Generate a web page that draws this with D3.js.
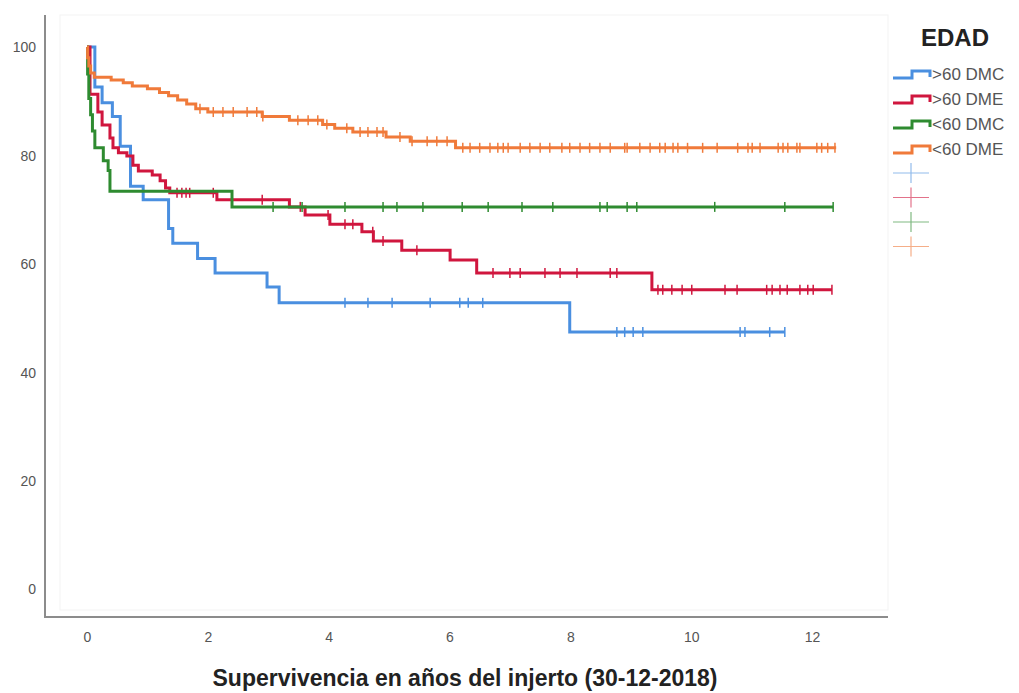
<!DOCTYPE html>
<html>
<head>
<meta charset="utf-8">
<script src="https://cdn.jsdelivr.net/npm/d3@7"></script>
<style>
  body { margin: 0; background: #fff; }
  svg { display: block; font-family: "Liberation Sans", Arial, sans-serif; }
</style>
</head>
<body>
<svg></svg>
<script>
let width = 1019;
let height = 693;

let groups = [">60 DMC", ">60 DME", "<60 DMC", "<60 DME"];
let colors = ["#4a8fe0", "#d0163e", "#2e8b30", "#f07a3a"];

// step times (years) and survival (%) per group
let blueTimes  = [0, 0.13, 0.25, 0.42, 0.55, 0.72, 0.93, 1.35, 1.42, 1.83, 2.12, 2.98, 3.18, 7.99, 11.55];
let blueValues = [100, 92.6, 89.7, 87.2, 81.7, 74.3, 71.8, 66.5, 63.8, 61.0, 58.3, 55.7, 52.8, 47.4, 47.4];
let blueCens   = [4.27, 4.65, 5.05, 5.68, 6.17, 6.31, 6.55, 8.77, 8.90, 9.04, 9.20, 10.81, 10.89, 11.30, 11.55];

let redTimes  = [0, 0.05, 0.18, 0.25, 0.38, 0.43, 0.52, 0.66, 0.76, 0.85, 1.08, 1.21, 1.30, 1.37, 2.15, 3.35, 3.61, 4.02, 4.55, 4.74, 5.21, 6.01, 6.45, 9.35, 12.33];
let redValues = [100, 91.3, 88.0, 85.6, 83.2, 81.4, 80.5, 79.9, 78.2, 77.1, 76.4, 75.3, 74.0, 73.1, 71.8, 70.5, 69.0, 67.3, 65.9, 64.2, 62.5, 60.7, 58.3, 55.2, 55.2];
let redCens   = [1.49, 1.57, 1.64, 1.70, 2.09, 2.90, 3.53, 3.99, 4.27, 4.40, 4.73, 4.90, 5.46, 6.72, 7.00, 7.17, 7.58, 7.83, 8.11, 8.66, 8.77, 9.45, 9.53, 9.68, 9.85, 10.01, 10.56, 10.76, 11.25, 11.34, 11.47, 11.59, 11.80, 11.93, 12.02, 12.33];

let greenTimes  = [0, 0.01, 0.03, 0.06, 0.09, 0.13, 0.27, 0.35, 0.38, 2.4, 12.35];
let greenValues = [100, 95.0, 90.5, 87.5, 84.5, 81.4, 79.0, 77.2, 73.4, 70.5, 70.5];
let greenCens   = [3.08, 3.56, 4.27, 4.90, 5.13, 5.56, 6.21, 6.64, 7.20, 7.71, 8.49, 8.61, 8.94, 9.10, 10.39, 11.55, 12.35];

let orangeTimes  = [0, 0.01, 0.03, 0.06, 0.12, 0.4, 0.6, 0.75, 1.0, 1.2, 1.35, 1.5, 1.65, 1.8, 2.0, 2.9, 3.35, 3.9, 4.1, 4.4, 4.95, 5.35, 6.1, 12.4];
let orangeValues = [100, 98.0, 96.5, 95.2, 94.4, 93.9, 93.4, 92.8, 92.3, 91.6, 91.0, 90.2, 89.5, 88.6, 88.0, 87.2, 86.5, 85.7, 85.0, 84.3, 83.4, 82.6, 81.4, 81.4];
let orangeCens   = [1.87, 2.09, 2.25, 2.42, 2.65, 2.81, 2.91, 3.49, 3.66, 3.82, 3.97, 4.30, 4.52, 4.65, 4.80, 4.90, 5.18, 5.38, 5.63, 5.79, 5.96, 6.22, 6.34, 6.50, 6.67, 6.80, 6.89, 6.97, 7.17, 7.33, 7.50, 7.66, 7.86, 7.99, 8.16, 8.32, 8.49, 8.66, 8.90, 8.94, 9.15, 9.32, 9.48, 9.57, 9.70, 9.78, 9.94, 10.19, 10.43, 10.77, 10.94, 11.01, 11.14, 11.44, 11.52, 11.60, 11.75, 11.80, 12.08, 12.16, 12.26, 12.38];

let xTicks = [0, 2, 4, 6, 8, 10, 12];
let yTicks = [0, 20, 40, 60, 80, 100];

let series = [
  { times: blueTimes, values: blueValues, cens: blueCens },
  { times: redTimes, values: redValues, cens: redCens },
  { times: greenTimes, values: greenValues, cens: greenCens },
  { times: orangeTimes, values: orangeValues, cens: orangeCens }
];

let svg = d3.select('svg').attr('width', width).attr('height', height);

let xScale = d3.scaleLinear().domain([0, 12]).range([87, 812]);
let yScale = d3.scaleLinear().domain([0, 100]).range([589, 47]);

// faint plot frame
svg.append('rect')
   .attr('x', 60).attr('y', 15).attr('width', 828).attr('height', 595)
   .attr('fill', 'none').attr('stroke', '#f3f3f3').attr('stroke-width', 1);

// axis lines
svg.append('line')
   .attr('x1', 45).attr('x2', 45).attr('y1', 15).attr('y2', 618)
   .attr('stroke', '#8c8c8c').attr('stroke-width', 2);
svg.append('line')
   .attr('x1', 44).attr('x2', 888).attr('y1', 617).attr('y2', 617)
   .attr('stroke', '#8c8c8c').attr('stroke-width', 2);

let xAxis = d3.axisBottom(xScale).tickValues(xTicks).tickSize(0).tickPadding(0);
let yAxis = d3.axisLeft(yScale).tickValues(yTicks).tickSize(0).tickPadding(0);

let gx = svg.append('g').attr('transform', 'translate(0,642)').call(xAxis);
let gy = svg.append('g').attr('transform', 'translate(36,0)').call(yAxis);
[gx, gy].forEach(g => {
  g.select('.domain').remove();
  g.selectAll('text')
   .attr('font-family', '"Liberation Sans", Arial, sans-serif')
   .attr('font-size', 14)
   .attr('fill', '#555');
});
gx.selectAll('text').attr('dy', 0);
gy.selectAll('text').attr('dy', '0.35em');

svg.append('text')
   .attr('x', 465).attr('y', 686)
   .attr('text-anchor', 'middle')
   .attr('font-size', 23)
   .attr('font-weight', 'bold')
   .attr('fill', '#222')
   .text('Supervivencia en años del injerto (30-12-2018)');

let line = d3.line()
  .x(d => xScale(d[0]))
  .y(d => yScale(d[1]))
  .curve(d3.curveStepAfter);

let survAt = (s, t) => {
  let v = s.values[0];
  for (let i = 0; i < s.times.length; i++) {
    if (s.times[i] <= t) v = s.values[i];
  }
  return v;
};

series.forEach((s, i) => {
  let pts = s.times.map((t, j) => [t, s.values[j]]);
  let g = svg.append('g');
  g.append('path')
   .attr('d', line(pts))
   .attr('fill', 'none')
   .attr('stroke', colors[i])
   .attr('stroke-width', 3)
   .attr('stroke-linejoin', 'miter');
  g.selectAll('line.cens')
   .data(s.cens)
   .enter()
   .append('line')
   .attr('class', 'cens')
   .attr('x1', d => xScale(d)).attr('x2', d => xScale(d))
   .attr('y1', d => yScale(survAt(s, d)) - 5)
   .attr('y2', d => yScale(survAt(s, d)) + 5)
   .attr('stroke', colors[i])
   .attr('stroke-width', 1.5);
});

// legend
let legend = svg.append('g').attr('id', 'legend');
legend.append('text')
   .attr('x', 955).attr('y', 46)
   .attr('text-anchor', 'middle')
   .attr('font-size', 24)
   .attr('font-weight', 'bold')
   .attr('fill', '#222')
   .text('EDAD');

groups.forEach((name, i) => {
  let y = 74 + i * 25;
  legend.append('path')
     .attr('d', `M893,${y + 4}H912V${y - 3}H930V${y + 3}`)
     .attr('fill', 'none')
     .attr('stroke', colors[i])
     .attr('stroke-width', 3);
  legend.append('text')
     .attr('x', 932).attr('y', y)
     .attr('dy', '0.35em')
     .attr('font-size', 17)
     .attr('fill', '#555')
     .text(name);
});

groups.forEach((name, i) => {
  let y = 173 + i * 24.5;
  let c = legend.append('g').attr('opacity', 0.6);
  c.append('line').attr('x1', 893).attr('x2', 929).attr('y1', y).attr('y2', y)
   .attr('stroke', colors[i]).attr('stroke-width', 1.2);
  c.append('line').attr('x1', 911).attr('x2', 911).attr('y1', y - 10).attr('y2', y + 10)
   .attr('stroke', colors[i]).attr('stroke-width', 1.2);
});
</script>
</body>
</html>
